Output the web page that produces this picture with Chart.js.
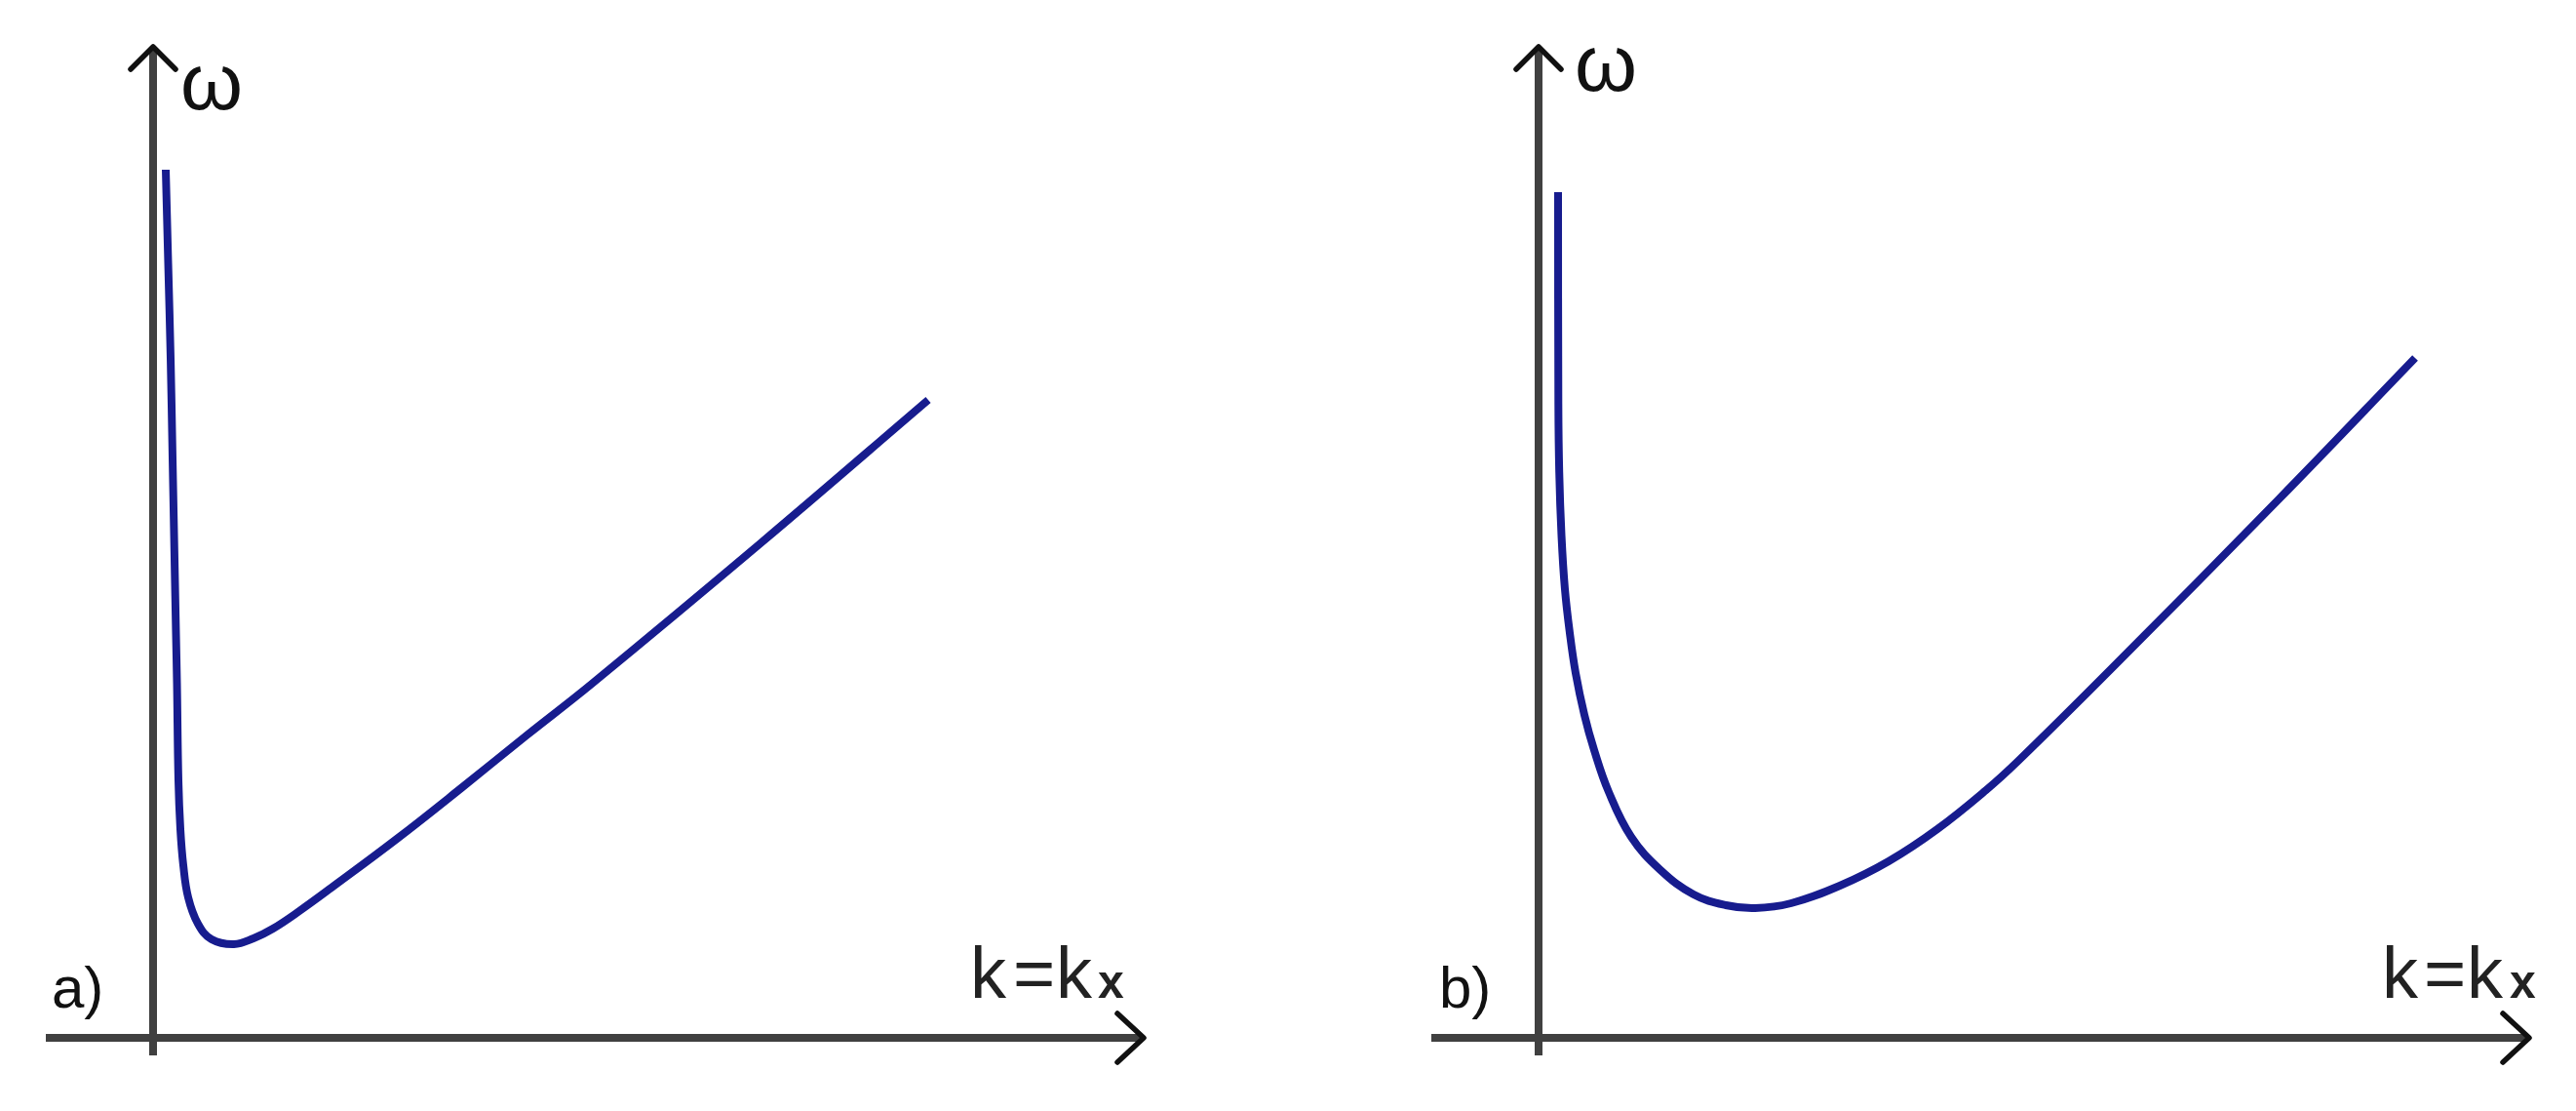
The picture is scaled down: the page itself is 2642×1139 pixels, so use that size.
<!DOCTYPE html>
<html><head><meta charset="utf-8">
<script src="https://cdn.jsdelivr.net/npm/chart.js@4/dist/chart.umd.min.js"></script>
<style>
html,body{margin:0;padding:0;background:#fff;overflow:hidden;}
#wrap{position:relative;width:2642px;height:1139px;background:#fff;}
canvas{position:absolute;top:0;}
</style></head><body>
<div id="wrap">
<canvas id="ca" width="1321" height="1139" style="left:0"></canvas>
<canvas id="cb" width="1321" height="1139" style="left:1321px"></canvas>
</div>
<script>
// ---- data (arbitrary units) ----
const panelAK     = [0.13, 0.155, 0.18, 0.20, 0.22, 0.235, 0.245, 0.26, 0.28, 0.31, 0.36, 0.46, 0.60, 0.83, 1.03, 1.23, 1.50, 1.83, 2.50, 3.16, 3.83, 4.50, 6.23, 7.95];
const panelAOmega = [8.90, 7.94, 6.97, 5.94, 4.91, 4.14, 3.64, 2.64, 2.14, 1.77, 1.44, 1.17, 1.01, 0.96, 1.02, 1.12, 1.30, 1.54, 2.04, 2.56, 3.10, 3.63, 5.07, 6.54];
const panelBK     = [0.200, 0.203, 0.212, 0.235, 0.27, 0.32, 0.38, 0.47, 0.57, 0.72, 0.95, 1.25, 1.59, 1.92, 2.22, 2.59, 3.09, 3.59, 4.09, 4.59, 4.92, 5.89, 7.59, 8.99];
const panelBOmega = [8.67, 6.50, 5.80, 5.15, 4.60, 4.15, 3.74, 3.31, 2.95, 2.52, 2.06, 1.72, 1.47, 1.36, 1.33, 1.38, 1.56, 1.81, 2.14, 2.54, 2.84, 3.80, 5.52, 6.97];
const panelLabels = ['a)', 'b)'];
const yAxisLabel = 'ω';
const xAxisLabelParts = ['k', '=', 'k'];
const xAxisLabelSub = 'x';

// ---- drawing ----
const AXIS_X_FROM = -1.10, AXIS_X_TO = 10.16;
const AXIS_Y_FROM = -0.18, AXIS_Y_TO = 10.16;

function axesPlugin(cfg) {
  return {
    id: 'axesDecor',
    beforeDatasetsDraw(chart) {
      const ctx = chart.ctx, xs = chart.scales.x, ys = chart.scales.y;
      const x0 = xs.getPixelForValue(0), y0 = ys.getPixelForValue(0);
      const xL = xs.getPixelForValue(AXIS_X_FROM), xR = xs.getPixelForValue(AXIS_X_TO);
      const yB = ys.getPixelForValue(AXIS_Y_FROM), yT = ys.getPixelForValue(AXIS_Y_TO);
      ctx.save();
      ctx.strokeStyle = '#404040';
      ctx.lineWidth = 8;
      ctx.lineCap = 'butt';
      ctx.beginPath(); ctx.moveTo(xL, y0); ctx.lineTo(xR - 3, y0); ctx.stroke();
      ctx.beginPath(); ctx.moveTo(x0, yB); ctx.lineTo(x0, yT + 3); ctx.stroke();
      ctx.strokeStyle = '#111';
      ctx.lineWidth = 5.5;
      ctx.lineJoin = 'round';
      ctx.lineCap = 'round';
      ctx.beginPath(); ctx.moveTo(xR - 27, y0 - 25); ctx.lineTo(xR, y0); ctx.lineTo(xR - 27, y0 + 25); ctx.stroke();
      ctx.beginPath(); ctx.moveTo(x0 - 23, yT + 23); ctx.lineTo(x0, yT); ctx.lineTo(x0 + 23, yT + 23); ctx.stroke();

      ctx.fillStyle = '#111';
      ctx.textBaseline = 'alphabetic';
      ctx.textAlign = 'left';
      ctx.font = '82px "Liberation Sans"';
      ctx.fillText(yAxisLabel, x0 + cfg.omegaDx, yT + cfg.omegaDy);
      ctx.font = '60px "Liberation Sans"';
      ctx.fillText(cfg.label, x0 - cfg.labelDx, y0 - 31);
      ctx.fillStyle = '#222';
      ctx.font = '74px "Liberation Sans"';
      xAxisLabelParts.forEach((p, i) => {
        ctx.fillText(p, x0 + cfg.kDx[i], y0 - 41);
      });
      ctx.font = 'bold 48px "Liberation Sans"';
      ctx.fillText(xAxisLabelSub, x0 + cfg.kDx[3], y0 - 41);
      ctx.restore();
    }
  };
}

function makeChart(id, ks, ws, cfg) {
  const pts = ks.map((k, i) => ({ x: k, y: ws[i] }));
  return new Chart(document.getElementById(id), {
    type: 'line',
    data: { datasets: [{
      data: pts,
      borderColor: '#171c8e',
      borderWidth: 8,
      pointRadius: 0,
      tension: 0.4,
      fill: false,
      borderCapStyle: 'butt',
      borderJoinStyle: 'round'
    }] },
    options: {
      animation: false,
      responsive: false,
      devicePixelRatio: 1,
      layout: { padding: 0 },
      plugins: { legend: { display: false }, tooltip: { enabled: false } },
      scales: {
        x: { type: 'linear', display: false, min: cfg.xMin, max: cfg.xMin + 13.21 },
        y: { type: 'linear', display: false, min: -0.75, max: 10.64 }
      }
    },
    plugins: [axesPlugin(cfg)]
  });
}

makeChart('ca', panelAK, panelAOmega, {
  label: panelLabels[0], xMin: -1.57,
  omegaDx: 28, omegaDy: 64, labelDx: 104,
  kDx: [838, 882, 926, 969]
});
makeChart('cb', panelBK, panelBOmega, {
  label: panelLabels[1], xMin: -2.57,
  omegaDx: 37, omegaDy: 45, labelDx: 102,
  kDx: [865, 908, 952, 996]
});
</script>
</body></html>
